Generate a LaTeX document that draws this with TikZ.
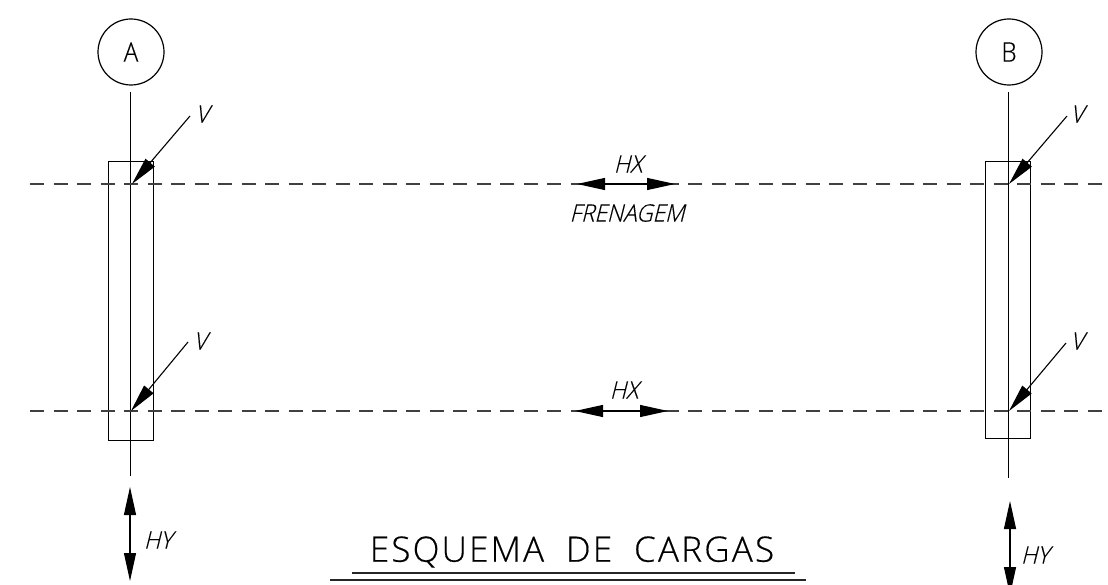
\documentclass[tikz,border=0pt]{standalone}
\usepackage{fontspec}
\setmainfont{Open Sans Light}[FakeStretch=0.9,FakeBold=0.3]
\newfontfamily\obliquefont{Open Sans Light}[FakeStretch=0.94,FakeSlant=0.25,FakeBold=0.3]
\newfontfamily\titlefont{Open Sans Light}[LetterSpace=6.4,FakeBold=0.4]
\usetikzlibrary{arrows.meta,positioning}
\newcommand{\myheadlen}{28pt}
\tikzset{
    axissty/.style={line width=1.2pt},
    boxsty/.style={draw,line width=1.2pt,rectangle,minimum width=45pt,anchor=north,inner sep=0pt},
    bubblesty/.style={draw,line width=1.2pt,circle,minimum size=66pt,inner sep=0pt,font=\fontsize{27}{27}\selectfont},
    beamsty/.style={line width=1.3pt,black!75,dash pattern=on 14pt off 9.5pt},
    loadsty/.style={line width=1.1pt,-{Triangle[length=\myheadlen,width=12pt]}},
    twosty/.style={line width=1.1pt,{Triangle[length=\myheadlen,width=12pt]}-{Triangle[length=\myheadlen,width=12pt]}},
    namesty/.style={inner sep=0pt,font=\fontsize{24}{24}\selectfont\obliquefont},
    titlesty/.style={inner sep=0pt,font=\fontsize{35}{35}\selectfont\titlefont},
    rulesty/.style={line width=1.3pt,black!85},
}
\begin{document}
\begin{tikzpicture}[x=1pt,y=-1pt]
  \useasboundingbox (0,0) rectangle (1108,585);

  % axis bubbles
  \node[bubblesty] (bubA) at (131,52) {A};
  \node[bubblesty] (bubB) at (1009,52) {B};
  \coordinate (axAtop) at (130.5,92);
  \coordinate (axAbot) at (130.5,476);
  \coordinate (axBtop) at (1008.5,92);
  \coordinate (axBbot) at (1008.5,478);
  \draw[axissty] (axAtop) -- (axAbot);
  \draw[axissty] (axBtop) -- (axBbot);

  % bearing strips
  \node[boxsty,minimum height=279pt] (boxA) at (131,161) {};
  \node[boxsty,minimum height=277pt] (boxB) at (1008,161) {};

  % beams
  \coordinate (topL) at (30,184);
  \coordinate (topR) at (1108,184);
  \coordinate (lowL) at (30,411);
  \coordinate (lowR) at (1108,411);
  \draw[beamsty] (topL) -- (topR);
  \draw[beamsty] (lowL) -- (lowR);

  % vertical loads
  \coordinate (tipA1) at (132,184);
  \coordinate (tipA2) at (131,411);
  \coordinate (tipB1) at (1009,184);
  \coordinate (tipB2) at (1009,411);
  \coordinate (tailA1) at (190,116);
  \coordinate (tailA2) at (188,342);
  \coordinate (tailB1) at (1067,116);
  \coordinate (tailB2) at (1066,343);
  \draw[loadsty] (tailA1) -- (tipA1);
  \draw[loadsty] (tailA2) -- (tipA2);
  \draw[loadsty] (tailB1) -- (tipB1);
  \draw[loadsty] (tailB2) -- (tipB2);
  \node[namesty] (vA1) at (202,114) {V};
  \node[namesty] (vA2) at (200,341) {V};
  \node[namesty] (vB1) at (1077,114) {V};
  \node[namesty] (vB2) at (1077,341) {V};

  % horizontal loads
  \coordinate (hxa) at (577,184);
  \coordinate (hxb) at (675,184);
  \coordinate (hxc) at (575,411);
  \coordinate (hxd) at (668,411);
  \draw[twosty] (hxa) -- (hxb);
  \draw[twosty] (hxc) -- (hxd);
  \node[namesty] (hx1) at (628,164) {HX};
  \node[namesty] (fren) at (627,213) {FRENAGEM};
  \node[namesty] (hx2) at (624,390) {HX};

  % transverse loads
  \coordinate (hyAa) at (130,487);
  \coordinate (hyAb) at (130,581);
  \coordinate (hyBa) at (1010,501);
  \coordinate (hyBb) at (1010,595);
  \draw[twosty] (hyAa) -- (hyAb);
  \draw[twosty] (hyBa) -- (hyBb);
  \node[namesty] (hyA) at (158,540) {HY};
  \node[namesty] (hyB) at (1035,555) {HY};

  % title
  \node[titlesty] (title) at (572,552) {ESQUEMA\hspace{0.3em} DE\hspace{0.3em} CARGAS};
  \coordinate (ruleAa) at (352,573);
  \coordinate (ruleAb) at (795,573);
  \coordinate (ruleBa) at (330,580);
  \coordinate (ruleBb) at (806,580);
  \draw[rulesty] (ruleAa) -- (ruleAb);
  \draw[rulesty] (ruleBa) -- (ruleBb);
\end{tikzpicture}
\end{document}
